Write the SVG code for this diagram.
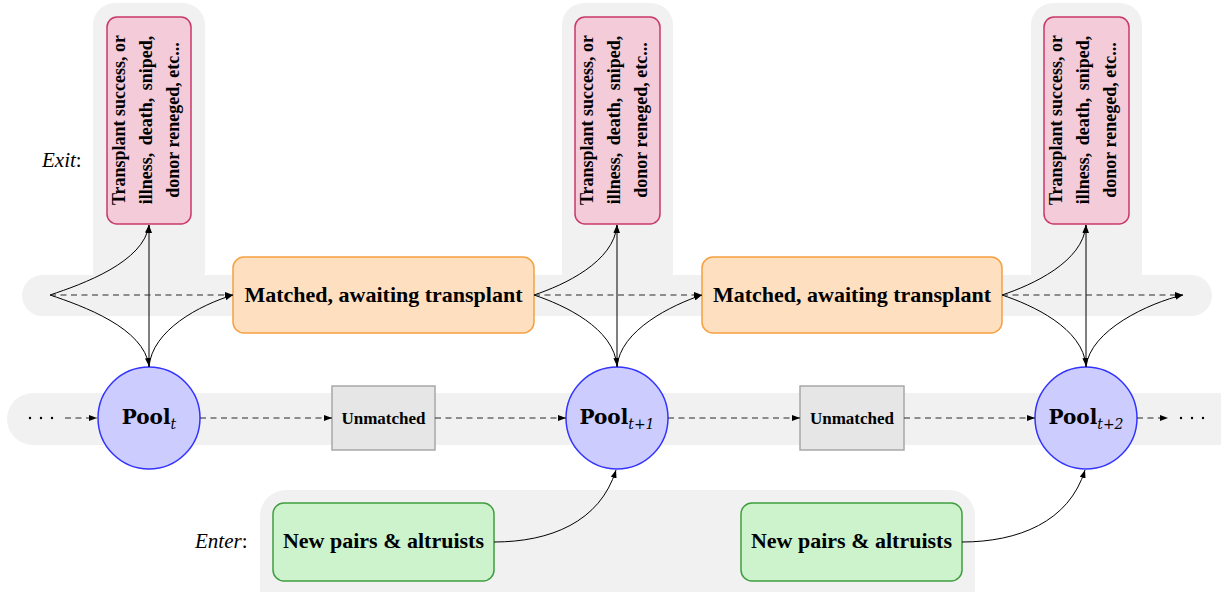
<svg xmlns="http://www.w3.org/2000/svg" width="1221" height="592" viewBox="0 0 1221 592">
<style>
.band{fill:#f1f1f1;stroke:none}
.pink{fill:#f3cbd9;stroke:#c8386a;stroke-width:1.5}
.orange{fill:#fedfc0;stroke:#f6a040;stroke-width:1.5}
.green{fill:#ccf3cc;stroke:#3f9f3f;stroke-width:1.5}
.grey{fill:#e6e6e6;stroke:#a8a8a8;stroke-width:1.5}
.pool{fill:#ccccff;stroke:#3333ff;stroke-width:1.5}
.lbl{font-family:"Liberation Serif","Times New Roman",serif;font-weight:bold;fill:#000}
.vt{font-size:18px}
.big{font-size:22px}
.pl{font-family:"DejaVu Serif",serif;font-weight:bold;font-size:20px;fill:#000}
.sub{font-family:"DejaVu Serif",serif;font-style:italic;font-weight:normal;font-size:14px}
.it{font-family:"Liberation Serif","Times New Roman",serif;font-size:21px;fill:#000}
.s{fill:none;stroke:#000;stroke-width:1}
.d{fill:none;stroke:#2a2a2a;stroke-width:1.1;stroke-dasharray:6 4.5}
</style>
<defs>
<marker id="ah" viewBox="0 0 8 6" refX="8" refY="3" markerWidth="8" markerHeight="6" markerUnits="userSpaceOnUse" orient="auto">
<path d="M0,0 L8,3 L0,6 z" fill="#000"/>
</marker>
</defs>

<g id="backgrounds">
<rect class="band" x="22" y="275" width="1190" height="41" rx="20.5"/>
<rect class="band" x="93" y="3" width="112" height="290" rx="22"/>
<rect class="band" x="562" y="3" width="111" height="290" rx="22"/>
<rect class="band" x="1031" y="3" width="111" height="290" rx="22"/>
<rect class="band" x="7" y="393" width="1240" height="52" rx="26"/>
<rect class="band" x="260" y="490" width="715" height="130" rx="26"/>
</g>

<g id="labels">
<text class="it" x="42" y="167"><tspan font-style="italic">Exit</tspan>:</text>
<text class="it" x="195" y="548"><tspan font-style="italic">Enter</tspan>:</text>
</g>

<g id="exit0">
<rect class="pink" x="107" y="17" width="84" height="207" rx="10"/>
<text class="lbl vt" transform="translate(149,120) rotate(-90)" text-anchor="middle"><tspan x="0" y="-24">Transplant success, or</tspan><tspan x="0" y="3" word-spacing="3">illness, death, sniped,</tspan><tspan x="0" y="30">donor reneged, etc...</tspan></text>
</g>
<g id="exit1">
<rect class="pink" x="575" y="17" width="85" height="207" rx="10"/>
<text class="lbl vt" transform="translate(617,120) rotate(-90)" text-anchor="middle"><tspan x="0" y="-24">Transplant success, or</tspan><tspan x="0" y="3" word-spacing="3">illness, death, sniped,</tspan><tspan x="0" y="30">donor reneged, etc...</tspan></text>
</g>
<g id="exit2">
<rect class="pink" x="1044" y="17" width="85" height="207" rx="10"/>
<text class="lbl vt" transform="translate(1086,120) rotate(-90)" text-anchor="middle"><tspan x="0" y="-24">Transplant success, or</tspan><tspan x="0" y="3" word-spacing="3">illness, death, sniped,</tspan><tspan x="0" y="30">donor reneged, etc...</tspan></text>
</g>

<g id="matched1">
<rect class="orange" x="233" y="257" width="301" height="76" rx="11"/>
<text class="lbl big" x="383.5" y="302" text-anchor="middle">Matched, awaiting transplant</text>
</g>
<g id="matched2">
<rect class="orange" x="702" y="257" width="300" height="76" rx="11"/>
<text class="lbl big" x="852" y="302" text-anchor="middle">Matched, awaiting transplant</text>
</g>

<g id="pool0">
<circle class="pool" cx="149" cy="418" r="51"/>
<text class="pl" x="149" y="424" text-anchor="middle">Pool<tspan class="sub" dy="5">t</tspan></text>
</g>
<g id="pool1">
<circle class="pool" cx="617" cy="418" r="51"/>
<text class="pl" x="617" y="424" text-anchor="middle">Pool<tspan class="sub" dy="5">t+1</tspan></text>
</g>
<g id="pool2">
<circle class="pool" cx="1086" cy="418" r="51"/>
<text class="pl" x="1086" y="424" text-anchor="middle">Pool<tspan class="sub" dy="5">t+2</tspan></text>
</g>

<g id="unmatched1">
<rect class="grey" x="332" y="386" width="103" height="64"/>
<text class="lbl" font-size="17" x="383.5" y="424" text-anchor="middle">Unmatched</text>
</g>
<g id="unmatched2">
<rect class="grey" x="800" y="386" width="104" height="64"/>
<text class="lbl" font-size="17" x="852" y="424" text-anchor="middle">Unmatched</text>
</g>

<g id="enter1">
<rect class="green" x="273" y="503" width="221" height="78" rx="11"/>
<text class="lbl big" x="383.5" y="548" text-anchor="middle">New pairs &amp; altruists</text>
</g>
<g id="enter2">
<rect class="green" x="741" y="503" width="221" height="78" rx="11"/>
<text class="lbl big" x="851.5" y="548" text-anchor="middle">New pairs &amp; altruists</text>
</g>

<g id="connectors">
<path class="s" d="M50,295 C83,284 144,262 149,225" marker-end="url(#ah)"/>
<path class="s" d="M50,295 C83,306 144,328 149,366" marker-end="url(#ah)"/>
<path class="s" d="M149,367 L149,225" marker-end="url(#ah)"/>
<path class="s" d="M149,367 C152,330 200,305 233,295" marker-end="url(#ah)"/>
<path class="d" d="M50,295 L233,295" marker-end="url(#ah)"/>
<path class="s" d="M534,295 C564,285 614,262 617,225" marker-end="url(#ah)"/>
<path class="s" d="M534,295 C564,305 614,328 617,366" marker-end="url(#ah)"/>
<path class="s" d="M617,367 L617,225" marker-end="url(#ah)"/>
<path class="s" d="M617,367 C620,330 672,305 702,295" marker-end="url(#ah)"/>
<path class="d" d="M534,295 L702,295" marker-end="url(#ah)"/>
<path class="s" d="M1002,295 C1032,285 1083,262 1086,225" marker-end="url(#ah)"/>
<path class="s" d="M1002,295 C1032,305 1083,328 1086,366" marker-end="url(#ah)"/>
<path class="s" d="M1086,367 L1086,225" marker-end="url(#ah)"/>
<path class="s" d="M1086,367 C1090,330 1149,303 1183,295" marker-end="url(#ah)"/>
<path class="d" d="M1002,295 L1183,295" marker-end="url(#ah)"/>
<path class="d" d="M65,418 L97,418" marker-end="url(#ah)"/>
<path class="d" d="M200,418 L332,418" marker-end="url(#ah)"/>
<path class="d" d="M435,418 L566,418" marker-end="url(#ah)"/>
<path class="d" d="M668,418 L800,418" marker-end="url(#ah)"/>
<path class="d" d="M904,418 L1035,418" marker-end="url(#ah)"/>
<path class="d" d="M1137,418 L1168,418" marker-end="url(#ah)"/>
<path class="s" d="M494,542 C550,542 600,522 616,470" marker-end="url(#ah)"/>
<path class="s" d="M962,542 C1018,542 1069,522 1085,470" marker-end="url(#ah)"/>
</g>
<g id="ellipses" fill="#000">
<circle cx="30" cy="418" r="1.2"/><circle cx="41" cy="418" r="1.2"/><circle cx="52" cy="418" r="1.2"/>
<circle cx="1181" cy="418" r="1.2"/><circle cx="1192" cy="418" r="1.2"/><circle cx="1203" cy="418" r="1.2"/>
</g>
</svg>
